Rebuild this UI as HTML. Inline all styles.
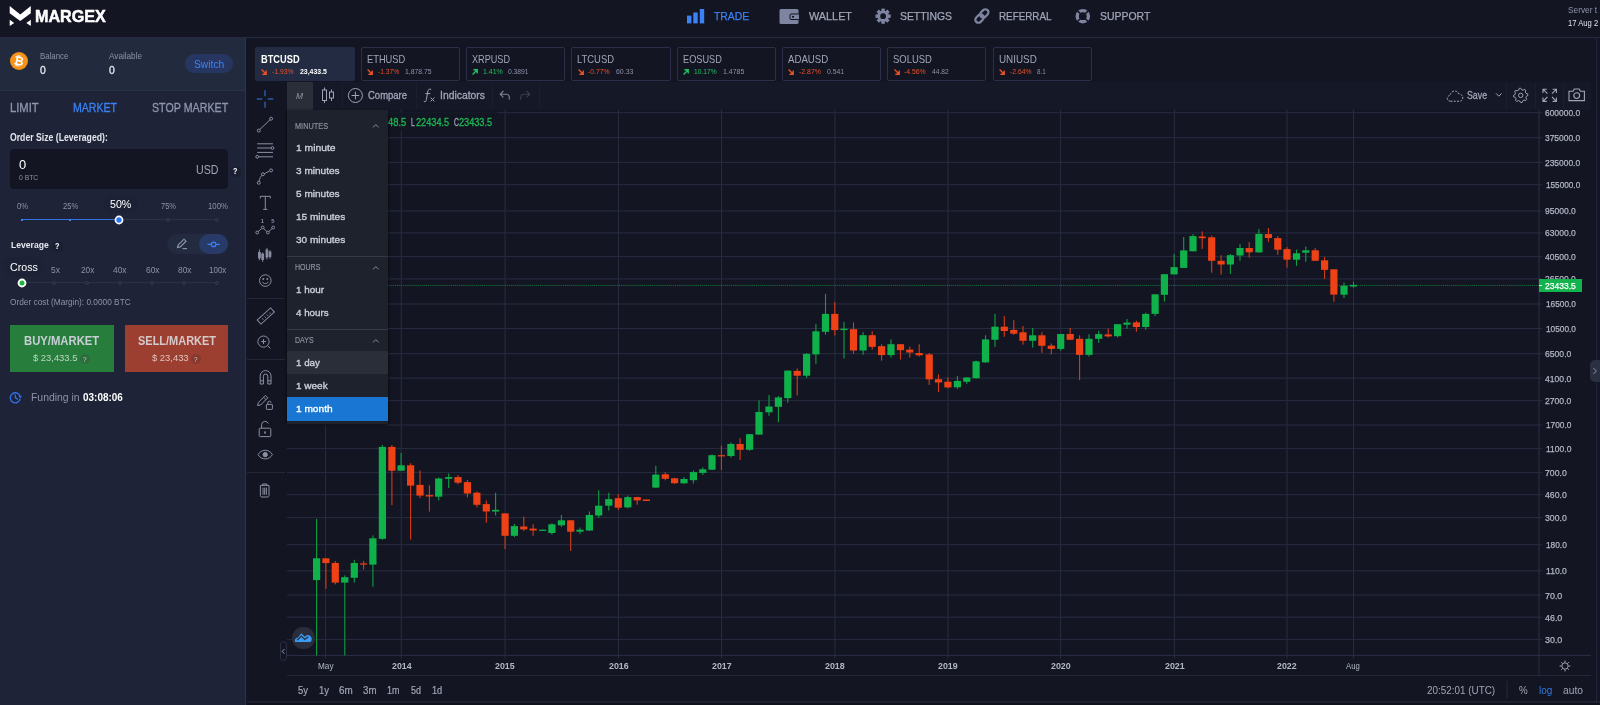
<!DOCTYPE html>
<html><head><meta charset="utf-8">
<style>
*{box-sizing:border-box;margin:0;padding:0}
html,body{width:1600px;height:705px;overflow:hidden;background:#131522;font-family:"Liberation Sans",sans-serif;color:#c8ccd8}
.abs{position:absolute}
#nav{position:absolute;left:0;top:0;width:1600px;height:37px;background:#131523;border-bottom:1px solid #262b40}
#left{position:absolute;left:0;top:37px;width:246px;height:668px;background:#1f2539;border-right:1px solid #2a3048}
.t{position:absolute;white-space:nowrap;line-height:1}
.navi{position:absolute;top:11px;font-size:12px;color:#b4b9c8;letter-spacing:0.2px;line-height:12px;white-space:nowrap}
.pair{position:absolute;top:46px;height:35px;width:101px;border:1px solid #2a3048;border-radius:2px}
.pair .n{position:absolute;left:7px;top:7px;font-size:11px;color:#c5c9d6;line-height:11px}
.pair .c{position:absolute;left:17px;top:21px;font-size:7px;line-height:7px}
.pair .p{position:absolute;top:21px;font-size:7px;line-height:7px;color:#9ba1b3}
.pair svg{position:absolute;left:6px;top:21px}
.red{color:#e8512a}.grn{color:#1fc160}
.dd{position:absolute;left:287px;top:110px;width:101px;height:312px;background:#1e222d;box-shadow:0 2px 4px rgba(0,0,0,.5)}
.dd .h{position:absolute;left:8px;font-size:7px;color:#8a8f9f;letter-spacing:.2px;line-height:7px}
.dd .i{position:absolute;left:0;width:101px;height:23px;padding-left:8px;font-size:9.5px;line-height:23px;color:#d1d4dc}
.dd .sep{position:absolute;left:0;width:101px;height:1px;background:#363a47}
.ax{position:absolute;left:1545px;font-size:8.5px;color:#b0b5c4;line-height:9px;white-space:nowrap}
.tx{position:absolute;top:662px;font-size:8px;color:#b0b5c4;line-height:9px;white-space:nowrap;transform:translateX(-50%);font-weight:bold}
</style></head><body>

<div id="root" style="position:absolute;left:0;top:0;width:1600px;height:705px;overflow:hidden;will-change:transform">
<div class="abs" style="left:0;top:0;width:1600px;height:37px;background:#131522"></div>
<div class="abs" style="left:0;top:37px;width:1600px;height:1px;background:#252a40"></div>
<div class="abs" style="left:0;top:38px;width:245px;height:667px;background:#1e2337"></div>
<div class="abs" style="left:0;top:38px;width:245px;height:52px;background:#222a3e"></div>
<div class="abs" style="left:0;top:90px;width:245px;height:1px;background:#2a3148"></div>
<div class="abs" style="left:244.8px;top:38px;width:1px;height:667px;background:#2d344d"></div>
<svg class="abs" style="left:0px;top:0px" width="40" height="32">
<path d="M9.7 6 L20.25 14.4 L30.8 6 L30.8 13.2 L20.25 21 L9.7 13.2 Z" fill="#fff"/>
<path d="M9.7 19.8 L14.2 22.9 L9.7 26 Z" fill="#fff"/><path d="M30.8 19.8 L26.3 22.9 L30.8 26 Z" fill="#fff"/></svg>
<span class="t" style="left:35.40px;top:7.75px;font-size:16.45px;color:#ffffff;font-weight:bold;transform-origin:0 0;transform:scaleX(0.981);-webkit-text-stroke:0.5px #fff;">MARGEX</span>
<svg class="abs" style="left:686px;top:8px" width="20" height="17"><rect x="1" y="7.6" width="4.4" height="7.8" fill="#3b82f6"/><rect x="7.3" y="4.5" width="4.4" height="10.9" fill="#3b82f6"/><rect x="13.8" y="1" width="4.4" height="14.4" fill="#3b82f6"/></svg>
<span class="t" style="left:714.00px;top:10.75px;font-size:11.21px;color:#3b82f6;font-weight:normal;transform-origin:0 0;transform:scaleX(0.927);-webkit-text-stroke:0.25px;">TRADE</span>
<svg class="abs" style="left:779px;top:8px" width="22" height="17"><rect x="0.5" y="1" width="19" height="15" rx="1.5" fill="#7e85a0"/><rect x="11" y="6" width="9.5" height="5.5" rx="1" fill="#7e85a0" stroke="#131522" stroke-width="1"/><rect x="13" y="8" width="2" height="1.6" fill="#131522"/></svg>
<span class="t" style="left:808.90px;top:10.75px;font-size:11.21px;color:#a0a6b8;font-weight:normal;transform-origin:0 0;transform:scaleX(0.968);-webkit-text-stroke:0.25px;">WALLET</span>
<svg class="abs" style="left:874px;top:7px" width="18" height="18"><g transform="translate(9.10,9.20)" fill="#7e85a0"><circle r="4.34" fill="none" stroke="#7e85a0" stroke-width="2.88"/><rect x="-1.7" y="-7.60" width="3.4" height="3.04" transform="rotate(0.0)"/><rect x="-1.7" y="-7.60" width="3.4" height="3.04" transform="rotate(45.0)"/><rect x="-1.7" y="-7.60" width="3.4" height="3.04" transform="rotate(90.0)"/><rect x="-1.7" y="-7.60" width="3.4" height="3.04" transform="rotate(135.0)"/><rect x="-1.7" y="-7.60" width="3.4" height="3.04" transform="rotate(180.0)"/><rect x="-1.7" y="-7.60" width="3.4" height="3.04" transform="rotate(225.0)"/><rect x="-1.7" y="-7.60" width="3.4" height="3.04" transform="rotate(270.0)"/><rect x="-1.7" y="-7.60" width="3.4" height="3.04" transform="rotate(315.0)"/></g></svg>
<span class="t" style="left:900.00px;top:10.75px;font-size:11.21px;color:#a0a6b8;font-weight:normal;transform-origin:0 0;transform:scaleX(0.928);-webkit-text-stroke:0.25px;">SETTINGS</span>
<svg class="abs" style="left:973px;top:7px" width="18" height="18" fill="none" stroke="#7e85a0" stroke-width="2.2" stroke-linecap="round">
<rect x="8.2" y="1.8" width="6.2" height="9.2" rx="3.1" transform="rotate(45 11.3 6.4)"/>
<rect x="3.4" y="7" width="6.2" height="9.2" rx="3.1" transform="rotate(45 6.5 11.6)"/></svg>
<span class="t" style="left:999.40px;top:10.75px;font-size:11.21px;color:#a0a6b8;font-weight:normal;transform-origin:0 0;transform:scaleX(0.878);-webkit-text-stroke:0.25px;">REFERRAL</span>
<svg class="abs" style="left:1074px;top:7px" width="18" height="18"><circle cx="8.8" cy="9.2" r="5.6" fill="none" stroke="#7e85a0" stroke-width="3.4"/>
<g stroke="#131522" stroke-width="1.6"><line x1="3" y1="3.4" x2="6" y2="6.4"/><line x1="14.6" y1="3.4" x2="11.6" y2="6.4"/><line x1="3" y1="15" x2="6" y2="12"/><line x1="14.6" y1="15" x2="11.6" y2="12"/></g></svg>
<span class="t" style="left:1099.70px;top:10.75px;font-size:11.21px;color:#a0a6b8;font-weight:normal;transform-origin:0 0;transform:scaleX(0.932);-webkit-text-stroke:0.25px;">SUPPORT</span>
<span class="t" style="left:1568.30px;top:5.75px;font-size:9.36px;color:#8d93a8;font-weight:normal;transform-origin:0 0;transform:scaleX(0.891);">Server t</span>
<span class="t" style="left:1568.30px;top:18.75px;font-size:9.36px;color:#e0e3ea;font-weight:normal;transform-origin:0 0;transform:scaleX(0.817);">17 Aug 2</span>
<div class="abs" style="left:10px;top:52px;width:18px;height:18px;border-radius:9px;background:#f7931a"></div>
<span class="t" style="left:14.2px;top:54.5px;font-size:12px;color:#fff;font-weight:bold;transform:rotate(12deg)">&#8383;</span>
<span class="t" style="left:40.00px;top:51.75px;font-size:9.22px;color:#8d93a8;font-weight:normal;transform-origin:0 0;transform:scaleX(0.849);">Balance</span>
<span class="t" style="left:40.00px;top:64.75px;font-size:10.78px;color:#e4e7ee;font-weight:normal;transform-origin:0 0;transform:scaleX(0.968);-webkit-text-stroke:0.3px #e4e7ee;">0</span>
<span class="t" style="left:109.00px;top:51.75px;font-size:9.22px;color:#8d93a8;font-weight:normal;transform-origin:0 0;transform:scaleX(0.886);">Available</span>
<span class="t" style="left:109.00px;top:64.75px;font-size:10.78px;color:#e4e7ee;font-weight:normal;transform-origin:0 0;transform:scaleX(0.968);-webkit-text-stroke:0.3px #e4e7ee;">0</span>
<div class="abs" style="left:185px;top:54.4px;width:48px;height:19px;border-radius:9.5px;background:#273660"></div>
<span class="t" style="left:193.80px;top:58.75px;font-size:11.06px;color:#3b82f6;font-weight:normal;transform-origin:0 0;transform:scaleX(0.933);">Switch</span>
<span class="t" style="left:10.30px;top:100.75px;font-size:13.19px;color:#9097ad;font-weight:normal;transform-origin:0 0;transform:scaleX(0.848);-webkit-text-stroke:0.3px #9097ad;">LIMIT</span>
<span class="t" style="left:73.40px;top:100.75px;font-size:13.19px;color:#3b82f6;font-weight:normal;transform-origin:0 0;transform:scaleX(0.802);-webkit-text-stroke:0.3px #3b82f6;">MARKET</span>
<span class="t" style="left:151.60px;top:100.75px;font-size:13.19px;color:#9097ad;font-weight:normal;transform-origin:0 0;transform:scaleX(0.810);-webkit-text-stroke:0.3px #9097ad;">STOP MARKET</span>
<span class="t" style="left:10.30px;top:132.75px;font-size:10.35px;color:#e4e7ee;font-weight:bold;transform-origin:0 0;transform:scaleX(0.838);">Order Size (Leveraged):</span>
<div class="abs" style="left:10.2px;top:148.6px;width:218px;height:40.2px;border-radius:4px;background:#131523"></div>
<span class="t" style="left:19.00px;top:158.75px;font-size:12.62px;color:#ffffff;font-weight:normal;transform-origin:0 0;transform:scaleX(1.026);">0</span>
<span class="t" style="left:19.00px;top:173.75px;font-size:7.66px;color:#8d93a8;font-weight:normal;transform-origin:0 0;transform:scaleX(0.889);">0 BTC</span>
<span class="t" style="left:195.80px;top:163.75px;font-size:12.62px;color:#a0a6b8;font-weight:normal;transform-origin:0 0;transform:scaleX(0.845);">USD</span>
<div class="abs" style="left:229.5px;top:165.7px;width:11px;height:11px;border-radius:6px;background:#1a1f31"></div>
<span class="t" style="left:232.80px;top:166.75px;font-size:8.51px;color:#ffffff;font-weight:bold;transform-origin:0 0;transform:scaleX(0.846);">?</span>
<span class="t" style="left:16.90px;top:201.75px;font-size:8.37px;color:#8d93a8;font-weight:normal;transform-origin:0 0;transform:scaleX(0.926);">0%</span>
<span class="t" style="left:63.00px;top:201.75px;font-size:8.37px;color:#8d93a8;font-weight:normal;transform-origin:0 0;transform:scaleX(0.902);">25%</span>
<div class="abs" style="left:103.5px;top:195px;width:34px;height:18px;border-radius:7px;background:#1c2135"></div>
<span class="t" style="left:110.30px;top:197.75px;font-size:11.63px;color:#ffffff;font-weight:normal;transform-origin:0 0;transform:scaleX(0.915);">50%</span>
<span class="t" style="left:161.00px;top:201.75px;font-size:8.37px;color:#8d93a8;font-weight:normal;transform-origin:0 0;transform:scaleX(0.896);">75%</span>
<span class="t" style="left:207.80px;top:201.75px;font-size:8.37px;color:#8d93a8;font-weight:normal;transform-origin:0 0;transform:scaleX(0.929);">100%</span>
<div class="abs" style="left:119px;top:219.2px;width:98px;height:1px;background:#2b3148"></div>
<div class="abs" style="left:21px;top:218.9px;width:98px;height:1.6px;background:#2f6fe4"></div>
<div class="abs" style="left:21px;top:218.5px;width:2.4px;height:2.4px;background:#3b82f6"></div>
<div class="abs" style="left:69.1px;top:218.5px;width:2.4px;height:2.4px;background:#3b82f6"></div>
<div class="abs" style="left:166.0px;top:217.7px;width:4px;height:4px;border-radius:2px;border:1px solid #353c55;background:#1e2337"></div>
<div class="abs" style="left:214.9px;top:217.7px;width:4px;height:4px;border-radius:2px;border:1px solid #353c55;background:#1e2337"></div>
<svg class="abs" style="left:113px;top:213.7px" width="12" height="12"><circle cx="6" cy="6" r="4.4" fill="#fff"/><circle cx="6" cy="6" r="2.7" fill="#2f74f0"/></svg>
<span class="t" style="left:10.50px;top:239.75px;font-size:9.72px;color:#e4e7ee;font-weight:bold;transform-origin:0 0;transform:scaleX(0.885);">Leverage</span>
<div class="abs" style="left:51.7px;top:240.6px;width:11px;height:11px;border-radius:6px;background:#1a1f31"></div>
<span class="t" style="left:55.00px;top:241.75px;font-size:8.51px;color:#ffffff;font-weight:bold;transform-origin:0 0;transform:scaleX(0.846);">?</span>
<div class="abs" style="left:167.2px;top:234px;width:61px;height:20px;border-radius:10px;background:#232b41"></div>
<div class="abs" style="left:199.2px;top:234px;width:29px;height:20px;border-radius:10px;background:#283a68"></div>
<svg class="abs" style="left:176px;top:238px" width="12" height="12" fill="none" stroke="#9097ad" stroke-width="1.1"><path d="M1.5 9.5 L2.3 6.9 L8 1.2 L10 3.2 L4.3 8.9 Z"/><line x1="6.5" y1="10.6" x2="11" y2="10.6"/></svg>
<svg class="abs" style="left:207px;top:239px" width="14" height="11" fill="none" stroke="#3b82f6" stroke-width="1.2"><line x1="0.5" y1="5.4" x2="4.3" y2="5.4"/><circle cx="6.6" cy="5.4" r="2.3"/><line x1="8.9" y1="5.4" x2="12.8" y2="5.4"/></svg>
<div class="abs" style="left:4px;top:257px;width:39px;height:20px;border-radius:8px;background:#1c2135"></div>
<span class="t" style="left:9.70px;top:261.75px;font-size:11.49px;color:#ffffff;font-weight:normal;transform-origin:0 0;transform:scaleX(0.927);">Cross</span>
<span class="t" style="left:50.80px;top:265.75px;font-size:8.94px;color:#8d93a8;font-weight:normal;transform-origin:0 0;transform:scaleX(0.943);">5x</span>
<span class="t" style="left:80.80px;top:265.75px;font-size:8.94px;color:#8d93a8;font-weight:normal;transform-origin:0 0;transform:scaleX(0.930);">20x</span>
<span class="t" style="left:113.30px;top:265.75px;font-size:8.94px;color:#8d93a8;font-weight:normal;transform-origin:0 0;transform:scaleX(0.944);">40x</span>
<span class="t" style="left:145.80px;top:265.75px;font-size:8.94px;color:#8d93a8;font-weight:normal;transform-origin:0 0;transform:scaleX(0.944);">60x</span>
<span class="t" style="left:178.40px;top:265.75px;font-size:8.94px;color:#8d93a8;font-weight:normal;transform-origin:0 0;transform:scaleX(0.937);">80x</span>
<span class="t" style="left:208.90px;top:265.75px;font-size:8.94px;color:#8d93a8;font-weight:normal;transform-origin:0 0;transform:scaleX(0.895);">100x</span>
<div class="abs" style="left:21.6px;top:282.3px;width:195px;height:1px;background:#2b3148"></div>
<div class="abs" style="left:52.4px;top:280.8px;width:4px;height:4px;border-radius:2px;border:1px solid #353c55;background:#1e2337"></div>
<div class="abs" style="left:85.0px;top:280.8px;width:4px;height:4px;border-radius:2px;border:1px solid #353c55;background:#1e2337"></div>
<div class="abs" style="left:117.5px;top:280.8px;width:4px;height:4px;border-radius:2px;border:1px solid #353c55;background:#1e2337"></div>
<div class="abs" style="left:149.9px;top:280.8px;width:4px;height:4px;border-radius:2px;border:1px solid #353c55;background:#1e2337"></div>
<div class="abs" style="left:182.4px;top:280.8px;width:4px;height:4px;border-radius:2px;border:1px solid #353c55;background:#1e2337"></div>
<div class="abs" style="left:214.9px;top:280.8px;width:4px;height:4px;border-radius:2px;border:1px solid #353c55;background:#1e2337"></div>
<svg class="abs" style="left:15.6px;top:276.8px" width="12" height="12"><circle cx="6" cy="6" r="4.4" fill="#fff"/><circle cx="6" cy="6" r="2.5" fill="#1fb83a"/></svg>
<span class="t" style="left:10.30px;top:297.75px;font-size:8.94px;color:#8d93a8;font-weight:normal;transform-origin:0 0;transform:scaleX(0.929);">Order cost (Margin): 0.0000 BTC</span>
<div class="abs" style="left:10.2px;top:325.2px;width:103.4px;height:46.4px;background:#277e3c"></div>
<div class="abs" style="left:125px;top:325.2px;width:103.1px;height:46.4px;background:#9c3f31"></div>
<span class="t" style="left:24.20px;top:334.75px;font-size:12.20px;color:#c9cdd6;font-weight:bold;transform-origin:0 0;transform:scaleX(0.926);">BUY/MARKET</span>
<span class="t" style="left:137.50px;top:334.75px;font-size:12.20px;color:#d6c9c9;font-weight:bold;transform-origin:0 0;transform:scaleX(0.900);">SELL/MARKET</span>
<span class="t" style="left:32.80px;top:352.75px;font-size:9.65px;color:#bcd6c1;font-weight:normal;transform-origin:0 0;transform:scaleX(0.976);">$ 23,433.5</span>
<span class="t" style="left:151.60px;top:352.75px;font-size:9.65px;color:#e0c3be;font-weight:normal;transform-origin:0 0;transform:scaleX(0.977);">$ 23,433</span>
<div class="abs" style="left:80.2px;top:354.2px;width:10px;height:10px;border-radius:5px;background:#2e6b3d"></div>
<span class="t" style="left:83.40px;top:355.75px;font-size:7.94px;color:#bcd6c1;font-weight:normal;transform-origin:0 0;transform:scaleX(0.815);">?</span>
<div class="abs" style="left:191.1px;top:354.2px;width:10px;height:10px;border-radius:5px;background:#86392e"></div>
<span class="t" style="left:194.30px;top:355.75px;font-size:7.94px;color:#e0c3be;font-weight:normal;transform-origin:0 0;transform:scaleX(0.815);">?</span>
<svg class="abs" style="left:9px;top:391px" width="13" height="13" fill="none" stroke="#2f74ee" stroke-width="1.3"><path d="M11 5.2 A5 5 0 1 0 11.2 7.6"/><path d="M6.3 3.4 L6.3 6.6 L8.9 8.4" stroke-width="1.2"/><path d="M9.8 5.6 L11.6 6.6 L12.2 4.8" stroke-width="1" fill="#2f74ee"/></svg>
<span class="t" style="left:30.50px;top:391.75px;font-size:10.64px;color:#8d93a8;font-weight:normal;transform-origin:0 0;transform:scaleX(0.980);">Funding in</span>
<span class="t" style="left:82.80px;top:391.75px;font-size:10.64px;color:#ffffff;font-weight:bold;transform-origin:0 0;transform:scaleX(0.937);">03:08:06</span>
<div class="abs" style="left:254.9px;top:47px;width:99.7px;height:34px;border-radius:2px;background:#222b42"></div>
<span class="t" style="left:261.30px;top:54.75px;font-size:10.35px;color:#ffffff;font-weight:bold;transform-origin:0 0;transform:scaleX(0.895);">BTCUSD</span>
<svg class="abs" style="left:261.2px;top:69px" width="6" height="6" fill="none" stroke="#e8512a" stroke-width="1.4"><path d="M0.6 0.6 L5 5 M1.4 5.2 L5.2 5.2 L5.2 1.4"/></svg>
<span class="t" style="left:272.25px;top:68.75px;font-size:7.09px;color:#e8512a;font-weight:normal;transform-origin:0 0;transform:scaleX(0.955);">-1.93%</span>
<span class="t" style="left:299.90px;top:68.75px;font-size:7.09px;color:#ffffff;font-weight:bold;transform-origin:0 0;transform:scaleX(0.978);">23,433.5</span>
<div class="abs" style="left:360.5px;top:47.3px;width:99.3px;height:33.5px;border-radius:2px;border:1px solid #2a3048"></div>
<span class="t" style="left:366.80px;top:54.75px;font-size:10.35px;color:#a0a6b8;font-weight:normal;transform-origin:0 0;transform:scaleX(0.900);">ETHUSD</span>
<svg class="abs" style="left:366.8px;top:69px" width="6" height="6" fill="none" stroke="#e8512a" stroke-width="1.4"><path d="M0.6 0.6 L5 5 M1.4 5.2 L5.2 5.2 L5.2 1.4"/></svg>
<span class="t" style="left:377.70px;top:68.75px;font-size:7.09px;color:#e8512a;font-weight:normal;transform-origin:0 0;transform:scaleX(0.939);">-1.37%</span>
<span class="t" style="left:405.40px;top:68.75px;font-size:7.09px;color:#8d93a8;font-weight:normal;transform-origin:0 0;transform:scaleX(0.960);">1,878.75</span>
<div class="abs" style="left:465.7px;top:47.3px;width:99.3px;height:33.5px;border-radius:2px;border:1px solid #2a3048"></div>
<span class="t" style="left:472.00px;top:54.75px;font-size:10.35px;color:#a0a6b8;font-weight:normal;transform-origin:0 0;transform:scaleX(0.881);">XRPUSD</span>
<svg class="abs" style="left:472.0px;top:69px" width="6" height="6" fill="none" stroke="#1fc160" stroke-width="1.4"><path d="M0.6 5.4 L5 1 M1.4 0.8 L5.2 0.8 L5.2 4.6"/></svg>
<span class="t" style="left:482.60px;top:68.75px;font-size:7.09px;color:#1fc160;font-weight:normal;transform-origin:0 0;transform:scaleX(0.985);">1.41%</span>
<span class="t" style="left:508.00px;top:68.75px;font-size:7.09px;color:#8d93a8;font-weight:normal;transform-origin:0 0;transform:scaleX(0.950);">0.3891</span>
<div class="abs" style="left:571.3px;top:47.3px;width:99.3px;height:33.5px;border-radius:2px;border:1px solid #2a3048"></div>
<span class="t" style="left:577.40px;top:54.75px;font-size:10.35px;color:#a0a6b8;font-weight:normal;transform-origin:0 0;transform:scaleX(0.911);">LTCUSD</span>
<svg class="abs" style="left:577.6px;top:69px" width="6" height="6" fill="none" stroke="#e8512a" stroke-width="1.4"><path d="M0.6 0.6 L5 5 M1.4 5.2 L5.2 5.2 L5.2 1.4"/></svg>
<span class="t" style="left:588.00px;top:68.75px;font-size:7.09px;color:#e8512a;font-weight:normal;transform-origin:0 0;transform:scaleX(0.962);">-0.77%</span>
<span class="t" style="left:615.60px;top:68.75px;font-size:7.09px;color:#8d93a8;font-weight:normal;transform-origin:0 0;transform:scaleX(0.981);">60.33</span>
<div class="abs" style="left:676.5px;top:47.3px;width:99.3px;height:33.5px;border-radius:2px;border:1px solid #2a3048"></div>
<span class="t" style="left:682.60px;top:54.75px;font-size:10.35px;color:#a0a6b8;font-weight:normal;transform-origin:0 0;transform:scaleX(0.888);">EOSUSD</span>
<svg class="abs" style="left:682.8px;top:69px" width="6" height="6" fill="none" stroke="#1fc160" stroke-width="1.4"><path d="M0.6 5.4 L5 1 M1.4 0.8 L5.2 0.8 L5.2 4.6"/></svg>
<span class="t" style="left:694.00px;top:68.75px;font-size:7.09px;color:#1fc160;font-weight:normal;transform-origin:0 0;transform:scaleX(0.940);">10.17%</span>
<span class="t" style="left:722.60px;top:68.75px;font-size:7.09px;color:#8d93a8;font-weight:normal;transform-origin:0 0;transform:scaleX(0.987);">1.4785</span>
<div class="abs" style="left:781.9px;top:47.3px;width:99.3px;height:33.5px;border-radius:2px;border:1px solid #2a3048"></div>
<span class="t" style="left:788.00px;top:54.75px;font-size:10.35px;color:#a0a6b8;font-weight:normal;transform-origin:0 0;transform:scaleX(0.934);">ADAUSD</span>
<svg class="abs" style="left:788.2px;top:69px" width="6" height="6" fill="none" stroke="#e8512a" stroke-width="1.4"><path d="M0.6 0.6 L5 5 M1.4 5.2 L5.2 5.2 L5.2 1.4"/></svg>
<span class="t" style="left:798.60px;top:68.75px;font-size:7.09px;color:#e8512a;font-weight:normal;transform-origin:0 0;transform:scaleX(0.979);">-2.87%</span>
<span class="t" style="left:826.60px;top:68.75px;font-size:7.09px;color:#8d93a8;font-weight:normal;transform-origin:0 0;transform:scaleX(0.964);">0.541</span>
<div class="abs" style="left:887.2px;top:47.3px;width:99.3px;height:33.5px;border-radius:2px;border:1px solid #2a3048"></div>
<span class="t" style="left:893.40px;top:54.75px;font-size:10.35px;color:#a0a6b8;font-weight:normal;transform-origin:0 0;transform:scaleX(0.914);">SOLUSD</span>
<svg class="abs" style="left:893.5px;top:69px" width="6" height="6" fill="none" stroke="#e8512a" stroke-width="1.4"><path d="M0.6 0.6 L5 5 M1.4 5.2 L5.2 5.2 L5.2 1.4"/></svg>
<span class="t" style="left:904.30px;top:68.75px;font-size:7.09px;color:#e8512a;font-weight:normal;transform-origin:0 0;transform:scaleX(0.966);">-4.56%</span>
<span class="t" style="left:932.30px;top:68.75px;font-size:7.09px;color:#8d93a8;font-weight:normal;transform-origin:0 0;transform:scaleX(0.941);">44.82</span>
<div class="abs" style="left:992.6px;top:47.3px;width:99.3px;height:33.5px;border-radius:2px;border:1px solid #2a3048"></div>
<span class="t" style="left:998.80px;top:54.75px;font-size:10.35px;color:#a0a6b8;font-weight:normal;transform-origin:0 0;transform:scaleX(0.953);">UNIUSD</span>
<svg class="abs" style="left:998.9px;top:69px" width="6" height="6" fill="none" stroke="#e8512a" stroke-width="1.4"><path d="M0.6 0.6 L5 5 M1.4 5.2 L5.2 5.2 L5.2 1.4"/></svg>
<span class="t" style="left:1009.60px;top:68.75px;font-size:7.09px;color:#e8512a;font-weight:normal;transform-origin:0 0;transform:scaleX(0.966);">-2.64%</span>
<span class="t" style="left:1037.30px;top:68.75px;font-size:7.09px;color:#8d93a8;font-weight:normal;transform-origin:0 0;transform:scaleX(0.883);">8.1</span>
<div class="abs" style="left:287px;top:82px;width:1304px;height:27.5px;background:#151827"></div>
<div class="abs" style="left:287px;top:81.6px;width:26.3px;height:28.4px;background:#2a2e39"></div>
<span class="t" style="left:296.00px;top:91.75px;font-size:9.36px;color:#9499aa;font-weight:normal;transform-origin:0 0;transform:scaleX(0.898);font-style:italic">M</span>
<svg class="abs" style="left:321px;top:87px" width="14" height="17" fill="none" stroke="#a0a6b8" stroke-width="1"><line x1="3.5" y1="0.5" x2="3.5" y2="16"/><rect x="1.5" y="3" width="4" height="10.5" fill="#151827"/><line x1="10.5" y1="2.5" x2="10.5" y2="14"/><rect x="8.5" y="5" width="4" height="6" fill="#151827"/></svg>
<svg class="abs" style="left:347px;top:87px" width="17" height="17" fill="none" stroke="#a0a6b8" stroke-width="1"><circle cx="8.4" cy="8.5" r="7"/><line x1="4.6" y1="8.5" x2="12.2" y2="8.5"/><line x1="8.4" y1="4.7" x2="8.4" y2="12.3"/></svg>
<span class="t" style="left:367.90px;top:90.75px;font-size:10.35px;color:#a0a6b8;font-weight:normal;transform-origin:0 0;transform:scaleX(0.918);-webkit-text-stroke:0.3px;">Compare</span>
<svg class="abs" style="left:423px;top:88px" width="13" height="15" fill="none" stroke="#a0a6b8" stroke-width="1"><path d="M8.2 1.4 C5.8 0.4 5 2 4.7 4 L3.4 11.5 C3.1 13.4 2.4 14.2 0.8 13.4"/><line x1="2.4" y1="5.6" x2="7.4" y2="5.6"/><path d="M7.6 9.6 L11.4 13.4 M11.4 9.6 L7.6 13.4"/></svg>
<span class="t" style="left:440.00px;top:90.75px;font-size:10.35px;color:#a0a6b8;font-weight:normal;transform-origin:0 0;transform:scaleX(1.003);-webkit-text-stroke:0.3px;">Indicators</span>
<svg class="abs" style="left:499px;top:90px" width="12" height="11" fill="none" stroke="#80859a" stroke-width="1.1"><path d="M4.4 1 L1.2 4.2 L4.4 7.4 M1.4 4.2 L7.5 4.2 C9.8 4.2 10.8 6.4 10.2 9.6"/></svg>
<svg class="abs" style="left:519px;top:90px" width="12" height="11" fill="none" stroke="#3a3f52" stroke-width="1.1"><path d="M7.6 1 L10.8 4.2 L7.6 7.4 M10.6 4.2 L4.5 4.2 C2.2 4.2 1.2 6.4 1.8 9.6"/></svg>
<div class="abs" style="left:341.6px;top:83px;width:1px;height:26px;background:#1a1e2e"></div>
<div class="abs" style="left:415.5px;top:83px;width:1px;height:26px;background:#1a1e2e"></div>
<div class="abs" style="left:492.0px;top:83px;width:1px;height:26px;background:#1a1e2e"></div>
<div class="abs" style="left:538.5px;top:83px;width:1px;height:26px;background:#1a1e2e"></div>
<div class="abs" style="left:1506.3px;top:83px;width:1px;height:26px;background:#1a1e2e"></div>
<div class="abs" style="left:1534.5px;top:83px;width:1px;height:26px;background:#1a1e2e"></div>
<div class="abs" style="left:1562.5px;top:83px;width:1px;height:26px;background:#1a1e2e"></div>
<svg class="abs" style="left:1446px;top:88px" width="20" height="15" fill="none" stroke="#a0a6b8" stroke-width="1" stroke-dasharray="2 1.3"><path d="M4.6 13.2 C0.4 13.2 0.2 7.8 4.2 7.4 C4.4 2.6 11.2 1.2 12.8 6 C17.4 5.6 18.4 13.2 13.6 13.2 Z"/></svg>
<span class="t" style="left:1466.90px;top:89.75px;font-size:10.78px;color:#a0a6b8;font-weight:normal;transform-origin:0 0;transform:scaleX(0.818);-webkit-text-stroke:0.3px;">Save</span>
<svg class="abs" style="left:1495px;top:92px" width="8" height="6" fill="none" stroke="#a0a6b8" stroke-width="1"><path d="M1 1.4 L3.8 4.2 L6.6 1.4"/></svg>
<svg class="abs" style="left:1512px;top:87px" width="17" height="17" fill="none" stroke="#a0a6b8" stroke-width="1"><polygon points="15.76,7.00 15.90,8.40 14.21,9.50 13.89,10.55 14.69,12.40 13.79,13.49 11.82,13.07 10.85,13.59 10.10,15.46 8.70,15.60 7.60,13.91 6.55,13.59 4.70,14.39 3.61,13.49 4.03,11.52 3.51,10.55 1.64,9.80 1.50,8.40 3.19,7.30 3.51,6.25 2.71,4.40 3.61,3.31 5.58,3.73 6.55,3.21 7.30,1.34 8.70,1.20 9.80,2.89 10.85,3.21 12.70,2.41 13.79,3.31 13.37,5.28 13.89,6.25" stroke-linejoin="round"/><circle cx="8.70" cy="8.40" r="2.2"/></svg>
<svg class="abs" style="left:1542px;top:88px" width="16" height="15" fill="none" stroke="#a0a6b8" stroke-width="1.1"><path d="M1 5 L1 1.2 L4.8 1.2 M1.2 1.4 L5.4 5.6 M10.6 1.2 L14.4 1.2 L14.4 5 M14.2 1.4 L10 5.6 M1 9.6 L1 13.4 L4.8 13.4 M1.2 13.2 L5.4 9 M14.4 9.6 L14.4 13.4 L10.6 13.4 M14.2 13.2 L10 9"/></svg>
<svg class="abs" style="left:1568px;top:88px" width="18" height="14" fill="none" stroke="#a0a6b8" stroke-width="1.1"><path d="M1 3.2 L5 3.2 L6.2 1 L11.2 1 L12.4 3.2 L16.4 3.2 L16.4 12.6 L1 12.6 Z"/><circle cx="8.7" cy="7.6" r="2.9"/></svg>
<svg class="abs" style="left:256.4px;top:90.0px" width="18" height="18" fill="none" stroke="#2b6fc6" stroke-width="1.2"><line x1="9" y1="0.3" x2="9" y2="6.2"/><line x1="9" y1="11.8" x2="9" y2="17.7"/><line x1="0.8" y1="9" x2="6.2" y2="9"/><line x1="11.8" y1="9" x2="17.2" y2="9"/></svg>
<svg class="abs" style="left:256.0px;top:116.0px" width="18" height="18" fill="none" stroke="#8b90a2" stroke-width="1"><line x1="3.8" y1="13.5" x2="14" y2="3.8"/><circle cx="2.75" cy="14.6" r="1.5"/><circle cx="15.1" cy="2.7" r="1.5"/></svg>
<svg class="abs" style="left:255.0px;top:142.0px" width="20" height="17" fill="none" stroke="#8b90a2" stroke-width="1"><line x1="2.2" y1="1.8" x2="18" y2="1.8"/><line x1="2.2" y1="6" x2="16" y2="6"/><circle cx="17.5" cy="6" r="1.4"/><line x1="2.2" y1="10.4" x2="18" y2="10.4"/><line x1="3.7" y1="14.8" x2="18" y2="14.8"/><circle cx="2.2" cy="14.8" r="1.4"/></svg>
<svg class="abs" style="left:256.0px;top:168.0px" width="18" height="18" fill="none" stroke="#8b90a2" stroke-width="1"><path d="M3 13.4 C3.6 10.4 4.8 8.4 6 7.3 M8.2 5.8 L13.6 3"/><circle cx="2.75" cy="14.75" r="1.5"/><circle cx="6.9" cy="6.3" r="1.5"/><circle cx="15.1" cy="2.4" r="1.5"/></svg>
<svg class="abs" style="left:259.0px;top:195.0px" width="13" height="16" fill="none" stroke="#8b90a2" stroke-width="1"><path d="M1.3 3.4 L1.3 1.3 L11.3 1.3 L11.3 3.4 M6.3 1.3 L6.3 14.3 M4.2 14.4 L8.4 14.4"/></svg>
<svg class="abs" style="left:254.5px;top:219.0px" width="22" height="17" fill="none" stroke="#8b90a2" stroke-width="1"><path d="M3.3 12.5 L6.6 9.5 M8.8 9.5 L11.7 12.5 M13.9 12.5 L17.1 9.5"/><circle cx="2.2" cy="13.5" r="1.4"/><circle cx="7.7" cy="8.5" r="1.4"/><circle cx="12.8" cy="13.5" r="1.4"/><circle cx="18.2" cy="8.5" r="1.4"/></svg>
<span class="t" style="left:260.7px;top:218.6px;font-size:5.8px;color:#8b90a2;font-weight:bold">1</span>
<span class="t" style="left:271.2px;top:218.6px;font-size:5.8px;color:#8b90a2;font-weight:bold">5</span>
<svg class="abs" style="left:256.0px;top:246.0px" width="18" height="18" fill="none" stroke="#8b90a2" stroke-width="0.9"><line x1="3.4" y1="3.4" x2="3.4" y2="14.3"/><rect x="2.5" y="6.5" width="1.8" height="5.5" fill="#8b90a2"/><line x1="6.7" y1="6.5" x2="6.7" y2="15.9"/><rect x="5.8" y="8" width="1.8" height="5.5" fill="#8b90a2"/><line x1="10.9" y1="1.8" x2="10.9" y2="13.5"/><rect x="10" y="4" width="1.8" height="7" fill="#8b90a2"/><line x1="14" y1="4.2" x2="14" y2="12.75"/><rect x="13.1" y="6" width="1.8" height="4.5" fill="#8b90a2"/></svg>
<svg class="abs" style="left:257.5px;top:273.0px" width="16" height="16" fill="none" stroke="#8b90a2" stroke-width="1"><circle cx="7.3" cy="7.6" r="5.8"/><circle cx="5.3" cy="6" r="0.6" fill="#8b90a2"/><circle cx="9.3" cy="6" r="0.6" fill="#8b90a2"/><path d="M4.4 8.8 C5.6 11.2 9 11.2 10.2 8.8"/></svg>
<svg class="abs" style="left:255.5px;top:306.0px" width="20" height="20" fill="none" stroke="#8b90a2" stroke-width="1"><rect x="0.8" y="7.2" width="18" height="5.6" transform="rotate(-42 9.8 10)"/><path d="M6.2 12.2 L7.4 13.8 M8.6 10.3 L9.8 11.9 M11 8.4 L12.2 10 M13.4 6.5 L14.6 8.1" stroke-width="0.8"/></svg>
<svg class="abs" style="left:257.0px;top:333.5px" width="17" height="17" fill="none" stroke="#8b90a2" stroke-width="1"><circle cx="6.5" cy="7.6" r="5.6"/><line x1="10.6" y1="11.6" x2="13.4" y2="14.4"/><line x1="4" y1="7.6" x2="9" y2="7.6"/><line x1="6.5" y1="5.1" x2="6.5" y2="10.1"/></svg>
<svg class="abs" style="left:257.5px;top:368.5px" width="16" height="17" fill="none" stroke="#8b90a2" stroke-width="1"><path d="M2.2 15 L2.2 7 A5.4 5.4 0 0 1 13 7 L13 15 L9.8 15 L9.8 7.2 A2.2 2.2 0 0 0 5.4 7.2 L5.4 15 Z"/><line x1="2.2" y1="11.8" x2="5.4" y2="11.8"/><line x1="9.8" y1="11.8" x2="13" y2="11.8"/></svg>
<svg class="abs" style="left:256.0px;top:393.5px" width="19" height="18" fill="none" stroke="#8b90a2" stroke-width="1"><path d="M1.6 11.6 L2.4 8.4 L9.4 1.4 L11.8 3.8 L4.8 10.8 Z"/><line x1="7.6" y1="3.2" x2="10" y2="5.6"/><rect x="10.4" y="10.4" width="6" height="5" rx="0.6"/><path d="M11.8 10.4 L11.8 8.8 A1.6 1.6 0 0 1 15 8.8"/></svg>
<svg class="abs" style="left:258.0px;top:420.0px" width="15" height="18" fill="none" stroke="#8b90a2" stroke-width="1"><rect x="1.2" y="8.2" width="11.6" height="8.4" rx="1"/><path d="M3.6 8.2 L3.6 4.6 A3.4 3.4 0 0 1 10.2 3.6"/><rect x="6.2" y="11.4" width="1.6" height="2.2" fill="#8b90a2" stroke="none"/></svg>
<svg class="abs" style="left:256.5px;top:448.0px" width="17" height="13" fill="none" stroke="#8b90a2" stroke-width="1"><path d="M1 6.6 C4.4 0.8 12 0.8 15.4 6.6 C12 12.4 4.4 12.4 1 6.6 Z"/><circle cx="8.2" cy="6.6" r="2.2" fill="#8b90a2"/></svg>
<svg class="abs" style="left:259.0px;top:483.0px" width="12" height="15" fill="none" stroke="#8b90a2" stroke-width="1"><path d="M1.4 2.4 L10 2.4 L10 12.6 C10 13.4 9.4 14 8.6 14 L2.8 14 C2 14 1.4 13.4 1.4 12.6 Z M3.6 2.4 L3.6 1 L7.8 1 L7.8 2.4"/><line x1="4" y1="4.6" x2="4" y2="11.8"/><line x1="5.7" y1="4.6" x2="5.7" y2="11.8"/><line x1="7.4" y1="4.6" x2="7.4" y2="11.8"/></svg>
<div class="abs" style="left:247px;top:297.5px;width:38px;height:1px;background:#232739"></div>
<div class="abs" style="left:247px;top:358.9px;width:38px;height:1px;background:#232739"></div>
<div class="abs" style="left:247px;top:472.0px;width:38px;height:1px;background:#232739"></div>
<svg class="abs" style="left:0;top:0" width="1600" height="705" shape-rendering="auto">
<rect x="287" y="112.15" width="1255" height="1.1" fill="#262b40"/>
<rect x="287" y="137.15" width="1255" height="1.1" fill="#262b40"/>
<rect x="287" y="161.85" width="1255" height="1.1" fill="#262b40"/>
<rect x="287" y="184.15" width="1255" height="1.1" fill="#262b40"/>
<rect x="287" y="210.35" width="1255" height="1.1" fill="#262b40"/>
<rect x="287" y="232.35" width="1255" height="1.1" fill="#262b40"/>
<rect x="287" y="256.05" width="1255" height="1.1" fill="#262b40"/>
<rect x="287" y="278.35" width="1255" height="1.1" fill="#262b40"/>
<rect x="287" y="303.45" width="1255" height="1.1" fill="#262b40"/>
<rect x="287" y="327.90" width="1255" height="1.1" fill="#262b40"/>
<rect x="287" y="353.15" width="1255" height="1.1" fill="#262b40"/>
<rect x="287" y="377.60" width="1255" height="1.1" fill="#262b40"/>
<rect x="287" y="400.05" width="1255" height="1.1" fill="#262b40"/>
<rect x="287" y="424.45" width="1255" height="1.1" fill="#262b40"/>
<rect x="287" y="447.85" width="1255" height="1.1" fill="#262b40"/>
<rect x="287" y="471.85" width="1255" height="1.1" fill="#262b40"/>
<rect x="287" y="494.15" width="1255" height="1.1" fill="#262b40"/>
<rect x="287" y="517.05" width="1255" height="1.1" fill="#262b40"/>
<rect x="287" y="544.15" width="1255" height="1.1" fill="#262b40"/>
<rect x="287" y="570.25" width="1255" height="1.1" fill="#262b40"/>
<rect x="287" y="594.55" width="1255" height="1.1" fill="#262b40"/>
<rect x="287" y="616.65" width="1255" height="1.1" fill="#262b40"/>
<rect x="287" y="639.05" width="1255" height="1.1" fill="#262b40"/>
<rect x="324.95" y="109.5" width="1.1" height="548.9" fill="#262b40"/>
<rect x="400.65" y="109.5" width="1.1" height="548.9" fill="#262b40"/>
<rect x="504.55" y="109.5" width="1.1" height="548.9" fill="#262b40"/>
<rect x="617.95" y="109.5" width="1.1" height="548.9" fill="#262b40"/>
<rect x="720.95" y="109.5" width="1.1" height="548.9" fill="#262b40"/>
<rect x="834.35" y="109.5" width="1.1" height="548.9" fill="#262b40"/>
<rect x="947.45" y="109.5" width="1.1" height="548.9" fill="#262b40"/>
<rect x="1060.05" y="109.5" width="1.1" height="548.9" fill="#262b40"/>
<rect x="1173.85" y="109.5" width="1.1" height="548.9" fill="#262b40"/>
<rect x="1286.45" y="109.5" width="1.1" height="548.9" fill="#262b40"/>
<rect x="1352.95" y="109.5" width="1.1" height="548.9" fill="#262b40"/>
<rect x="287" y="654.90" width="1304" height="1" fill="#2a2f45"/>
<rect x="287" y="675" width="1304" height="1" fill="#232739"/>
<rect x="1538.5" y="109.5" width="1" height="566" fill="#2a2f45"/>
<rect x="1596" y="38" width="1" height="664" fill="#20253a"/>
<rect x="247" y="701.5" width="1353" height="1.2" fill="#2a2f45"/>
<rect x="247" y="702.7" width="1353" height="3" fill="#0f111b"/>
<rect x="1506.5" y="681" width="1" height="17" fill="#262b40"/>
<line x1="287" y1="285.4" x2="1539" y2="285.4" stroke="#14a848" stroke-width="1" stroke-dasharray="1.13 0.8" opacity="0.62"/>
<rect x="316.05" y="518.90" width="1.1" height="136.50" fill="#0f9f44"/>
<rect x="313.00" y="558.30" width="7.2" height="21.80" fill="#0fb14b"/>
<rect x="325.35" y="558.30" width="1.1" height="30.50" fill="#d63c16"/>
<rect x="322.30" y="558.30" width="7.2" height="4.80" fill="#ef4116"/>
<rect x="334.75" y="561.00" width="1.1" height="23.40" fill="#d63c16"/>
<rect x="331.70" y="562.90" width="7.2" height="19.70" fill="#ef4116"/>
<rect x="344.25" y="575.40" width="1.1" height="80.00" fill="#0f9f44"/>
<rect x="341.20" y="577.20" width="7.2" height="5.40" fill="#0fb14b"/>
<rect x="353.75" y="559.80" width="1.1" height="22.70" fill="#0f9f44"/>
<rect x="350.70" y="563.00" width="7.2" height="14.80" fill="#0fb14b"/>
<rect x="363.05" y="560.90" width="1.1" height="8.50" fill="#d63c16"/>
<rect x="360.00" y="563.40" width="7.2" height="1.20" fill="#ef4116"/>
<rect x="372.35" y="535.40" width="1.1" height="51.20" fill="#0f9f44"/>
<rect x="369.30" y="538.30" width="7.2" height="26.30" fill="#0fb14b"/>
<rect x="381.85" y="445.00" width="1.1" height="94.70" fill="#0f9f44"/>
<rect x="378.80" y="446.90" width="7.2" height="91.90" fill="#0fb14b"/>
<rect x="391.35" y="445.00" width="1.1" height="60.10" fill="#d63c16"/>
<rect x="388.30" y="446.90" width="7.2" height="23.80" fill="#ef4116"/>
<rect x="400.55" y="453.00" width="1.1" height="17.70" fill="#0f9f44"/>
<rect x="397.50" y="465.30" width="7.2" height="5.40" fill="#0fb14b"/>
<rect x="410.05" y="463.20" width="1.1" height="76.40" fill="#d63c16"/>
<rect x="407.00" y="465.30" width="7.2" height="20.30" fill="#ef4116"/>
<rect x="419.45" y="470.50" width="1.1" height="27.50" fill="#d63c16"/>
<rect x="416.40" y="484.90" width="7.2" height="10.70" fill="#ef4116"/>
<rect x="428.85" y="485.30" width="1.1" height="26.30" fill="#d63c16"/>
<rect x="425.80" y="495.10" width="7.2" height="1.40" fill="#ef4116"/>
<rect x="438.15" y="477.50" width="1.1" height="22.90" fill="#0f9f44"/>
<rect x="435.10" y="478.50" width="7.2" height="18.20" fill="#0fb14b"/>
<rect x="448.15" y="473.50" width="1.1" height="14.50" fill="#0f9f44"/>
<rect x="445.10" y="477.10" width="7.2" height="1.70" fill="#0fb14b"/>
<rect x="457.45" y="475.10" width="1.1" height="9.30" fill="#d63c16"/>
<rect x="454.40" y="477.10" width="7.2" height="5.60" fill="#ef4116"/>
<rect x="466.85" y="480.00" width="1.1" height="17.40" fill="#d63c16"/>
<rect x="463.80" y="482.10" width="7.2" height="11.40" fill="#ef4116"/>
<rect x="476.35" y="491.40" width="1.1" height="16.00" fill="#d63c16"/>
<rect x="473.30" y="492.70" width="7.2" height="12.10" fill="#ef4116"/>
<rect x="485.75" y="500.40" width="1.1" height="22.30" fill="#d63c16"/>
<rect x="482.70" y="504.10" width="7.2" height="7.40" fill="#ef4116"/>
<rect x="495.05" y="492.70" width="1.1" height="22.80" fill="#0f9f44"/>
<rect x="492.00" y="509.80" width="7.2" height="1.70" fill="#0fb14b"/>
<rect x="504.55" y="513.40" width="1.1" height="35.60" fill="#d63c16"/>
<rect x="501.50" y="513.40" width="7.2" height="22.40" fill="#ef4116"/>
<rect x="513.85" y="524.00" width="1.1" height="13.10" fill="#0f9f44"/>
<rect x="510.80" y="526.10" width="7.2" height="9.70" fill="#0fb14b"/>
<rect x="523.25" y="516.70" width="1.1" height="14.20" fill="#d63c16"/>
<rect x="520.20" y="526.50" width="7.2" height="2.90" fill="#ef4116"/>
<rect x="532.55" y="524.30" width="1.1" height="11.50" fill="#d63c16"/>
<rect x="529.50" y="528.60" width="7.2" height="1.90" fill="#ef4116"/>
<rect x="542.05" y="529.70" width="1.1" height="1.20" fill="#0f9f44"/>
<rect x="539.00" y="529.70" width="7.2" height="1.20" fill="#0fb14b"/>
<rect x="551.35" y="523.20" width="1.1" height="11.40" fill="#0f9f44"/>
<rect x="548.30" y="524.30" width="7.2" height="8.70" fill="#0fb14b"/>
<rect x="560.85" y="515.00" width="1.1" height="12.00" fill="#0f9f44"/>
<rect x="557.80" y="520.30" width="7.2" height="5.00" fill="#0fb14b"/>
<rect x="570.15" y="520.30" width="1.1" height="30.60" fill="#d63c16"/>
<rect x="567.10" y="520.30" width="7.2" height="11.40" fill="#ef4116"/>
<rect x="579.45" y="527.60" width="1.1" height="6.20" fill="#0f9f44"/>
<rect x="576.40" y="529.70" width="7.2" height="2.00" fill="#0fb14b"/>
<rect x="588.85" y="511.50" width="1.1" height="19.50" fill="#0f9f44"/>
<rect x="585.80" y="515.00" width="7.2" height="15.50" fill="#0fb14b"/>
<rect x="598.15" y="490.20" width="1.1" height="27.60" fill="#0f9f44"/>
<rect x="595.10" y="505.70" width="7.2" height="9.80" fill="#0fb14b"/>
<rect x="608.25" y="492.70" width="1.1" height="17.80" fill="#0f9f44"/>
<rect x="605.20" y="499.10" width="7.2" height="6.60" fill="#0fb14b"/>
<rect x="617.75" y="494.30" width="1.1" height="15.50" fill="#d63c16"/>
<rect x="614.70" y="498.20" width="7.2" height="9.50" fill="#ef4116"/>
<rect x="627.25" y="495.50" width="1.1" height="12.70" fill="#0f9f44"/>
<rect x="624.20" y="497.10" width="7.2" height="10.30" fill="#0fb14b"/>
<rect x="636.65" y="496.80" width="1.1" height="8.00" fill="#d63c16"/>
<rect x="633.60" y="497.10" width="7.2" height="3.30" fill="#ef4116"/>
<rect x="645.85" y="499.50" width="1.1" height="1.50" fill="#d63c16"/>
<rect x="642.80" y="499.50" width="7.2" height="1.50" fill="#ef4116"/>
<rect x="655.25" y="465.80" width="1.1" height="22.30" fill="#0f9f44"/>
<rect x="652.20" y="474.60" width="7.2" height="13.00" fill="#0fb14b"/>
<rect x="664.75" y="472.10" width="1.1" height="8.20" fill="#d63c16"/>
<rect x="661.70" y="474.30" width="7.2" height="4.50" fill="#ef4116"/>
<rect x="674.05" y="477.80" width="1.1" height="6.20" fill="#d63c16"/>
<rect x="671.00" y="478.30" width="7.2" height="4.90" fill="#ef4116"/>
<rect x="683.45" y="477.20" width="1.1" height="6.50" fill="#0f9f44"/>
<rect x="680.40" y="479.00" width="7.2" height="4.30" fill="#0fb14b"/>
<rect x="692.85" y="470.40" width="1.1" height="13.10" fill="#0f9f44"/>
<rect x="689.80" y="472.10" width="7.2" height="8.10" fill="#0fb14b"/>
<rect x="702.25" y="467.40" width="1.1" height="7.50" fill="#0f9f44"/>
<rect x="699.20" y="469.30" width="7.2" height="3.60" fill="#0fb14b"/>
<rect x="711.45" y="454.40" width="1.1" height="15.60" fill="#0f9f44"/>
<rect x="708.40" y="455.20" width="7.2" height="14.50" fill="#0fb14b"/>
<rect x="720.85" y="445.60" width="1.1" height="24.40" fill="#d63c16"/>
<rect x="717.80" y="455.20" width="7.2" height="1.20" fill="#ef4116"/>
<rect x="730.35" y="442.40" width="1.1" height="15.20" fill="#0f9f44"/>
<rect x="727.30" y="444.00" width="7.2" height="12.00" fill="#0fb14b"/>
<rect x="739.55" y="438.20" width="1.1" height="21.70" fill="#d63c16"/>
<rect x="736.50" y="444.00" width="7.2" height="5.80" fill="#ef4116"/>
<rect x="749.05" y="434.20" width="1.1" height="16.50" fill="#0f9f44"/>
<rect x="746.00" y="434.20" width="7.2" height="15.60" fill="#0fb14b"/>
<rect x="758.45" y="400.30" width="1.1" height="34.30" fill="#0f9f44"/>
<rect x="755.40" y="412.00" width="7.2" height="22.60" fill="#0fb14b"/>
<rect x="768.45" y="395.10" width="1.1" height="20.80" fill="#0f9f44"/>
<rect x="765.40" y="406.50" width="7.2" height="5.80" fill="#0fb14b"/>
<rect x="777.85" y="396.10" width="1.1" height="26.00" fill="#0f9f44"/>
<rect x="774.80" y="397.40" width="7.2" height="9.40" fill="#0fb14b"/>
<rect x="787.25" y="370.60" width="1.1" height="32.20" fill="#0f9f44"/>
<rect x="784.20" y="370.60" width="7.2" height="27.50" fill="#0fb14b"/>
<rect x="796.65" y="368.40" width="1.1" height="27.20" fill="#d63c16"/>
<rect x="793.60" y="370.90" width="7.2" height="4.80" fill="#ef4116"/>
<rect x="806.05" y="353.00" width="1.1" height="25.00" fill="#0f9f44"/>
<rect x="803.00" y="353.90" width="7.2" height="21.80" fill="#0fb14b"/>
<rect x="815.35" y="324.10" width="1.1" height="39.70" fill="#0f9f44"/>
<rect x="812.30" y="331.30" width="7.2" height="23.10" fill="#0fb14b"/>
<rect x="824.95" y="294.00" width="1.1" height="40.70" fill="#0f9f44"/>
<rect x="821.90" y="313.90" width="7.2" height="17.90" fill="#0fb14b"/>
<rect x="834.25" y="302.00" width="1.1" height="33.50" fill="#d63c16"/>
<rect x="831.20" y="313.90" width="7.2" height="16.20" fill="#ef4116"/>
<rect x="843.45" y="321.90" width="1.1" height="36.60" fill="#0f9f44"/>
<rect x="840.40" y="328.70" width="7.2" height="1.40" fill="#0fb14b"/>
<rect x="852.95" y="322.40" width="1.1" height="31.20" fill="#d63c16"/>
<rect x="849.90" y="329.20" width="7.2" height="21.30" fill="#ef4116"/>
<rect x="862.55" y="332.10" width="1.1" height="22.70" fill="#0f9f44"/>
<rect x="859.50" y="335.20" width="7.2" height="15.30" fill="#0fb14b"/>
<rect x="871.65" y="331.30" width="1.1" height="18.30" fill="#d63c16"/>
<rect x="868.60" y="335.20" width="7.2" height="11.60" fill="#ef4116"/>
<rect x="881.05" y="344.20" width="1.1" height="16.50" fill="#d63c16"/>
<rect x="878.00" y="346.20" width="7.2" height="8.90" fill="#ef4116"/>
<rect x="890.45" y="339.40" width="1.1" height="18.20" fill="#0f9f44"/>
<rect x="887.40" y="344.20" width="7.2" height="10.90" fill="#0fb14b"/>
<rect x="899.95" y="344.20" width="1.1" height="15.30" fill="#d63c16"/>
<rect x="896.90" y="344.20" width="7.2" height="6.00" fill="#ef4116"/>
<rect x="909.25" y="346.60" width="1.1" height="11.00" fill="#d63c16"/>
<rect x="906.20" y="349.60" width="7.2" height="2.90" fill="#ef4116"/>
<rect x="918.65" y="344.20" width="1.1" height="12.30" fill="#d63c16"/>
<rect x="915.60" y="353.00" width="7.2" height="2.30" fill="#ef4116"/>
<rect x="928.65" y="353.00" width="1.1" height="31.90" fill="#d63c16"/>
<rect x="925.60" y="354.40" width="7.2" height="25.00" fill="#ef4116"/>
<rect x="937.95" y="374.40" width="1.1" height="17.50" fill="#d63c16"/>
<rect x="934.90" y="379.20" width="7.2" height="3.30" fill="#ef4116"/>
<rect x="947.35" y="377.20" width="1.1" height="11.20" fill="#d63c16"/>
<rect x="944.30" y="381.70" width="7.2" height="5.70" fill="#ef4116"/>
<rect x="956.85" y="376.10" width="1.1" height="12.80" fill="#0f9f44"/>
<rect x="953.80" y="380.90" width="7.2" height="6.40" fill="#0fb14b"/>
<rect x="966.25" y="377.10" width="1.1" height="6.70" fill="#0f9f44"/>
<rect x="963.20" y="377.50" width="7.2" height="4.30" fill="#0fb14b"/>
<rect x="975.55" y="360.60" width="1.1" height="18.00" fill="#0f9f44"/>
<rect x="972.50" y="361.30" width="7.2" height="16.90" fill="#0fb14b"/>
<rect x="984.95" y="335.30" width="1.1" height="27.40" fill="#0f9f44"/>
<rect x="981.90" y="339.40" width="7.2" height="23.00" fill="#0fb14b"/>
<rect x="994.45" y="313.90" width="1.1" height="33.00" fill="#0f9f44"/>
<rect x="991.40" y="326.70" width="7.2" height="13.10" fill="#0fb14b"/>
<rect x="1003.75" y="316.20" width="1.1" height="20.60" fill="#d63c16"/>
<rect x="1000.70" y="326.70" width="7.2" height="4.30" fill="#ef4116"/>
<rect x="1013.25" y="320.20" width="1.1" height="14.60" fill="#d63c16"/>
<rect x="1010.20" y="329.90" width="7.2" height="3.80" fill="#ef4116"/>
<rect x="1022.45" y="326.00" width="1.1" height="18.70" fill="#d63c16"/>
<rect x="1019.40" y="332.30" width="7.2" height="8.50" fill="#ef4116"/>
<rect x="1032.15" y="328.00" width="1.1" height="19.60" fill="#0f9f44"/>
<rect x="1029.10" y="335.30" width="7.2" height="5.50" fill="#0fb14b"/>
<rect x="1041.35" y="332.30" width="1.1" height="20.50" fill="#d63c16"/>
<rect x="1038.30" y="335.30" width="7.2" height="10.50" fill="#ef4116"/>
<rect x="1050.75" y="343.40" width="1.1" height="10.90" fill="#d63c16"/>
<rect x="1047.70" y="345.60" width="7.2" height="3.30" fill="#ef4116"/>
<rect x="1060.15" y="334.00" width="1.1" height="16.80" fill="#0f9f44"/>
<rect x="1057.10" y="334.00" width="7.2" height="14.90" fill="#0fb14b"/>
<rect x="1069.65" y="328.00" width="1.1" height="12.20" fill="#d63c16"/>
<rect x="1066.60" y="334.00" width="7.2" height="5.80" fill="#ef4116"/>
<rect x="1079.05" y="335.30" width="1.1" height="44.90" fill="#d63c16"/>
<rect x="1076.00" y="338.80" width="7.2" height="16.10" fill="#ef4116"/>
<rect x="1088.45" y="334.40" width="1.1" height="22.20" fill="#0f9f44"/>
<rect x="1085.40" y="338.80" width="7.2" height="16.10" fill="#0fb14b"/>
<rect x="1098.15" y="331.00" width="1.1" height="11.90" fill="#0f9f44"/>
<rect x="1095.10" y="334.10" width="7.2" height="4.70" fill="#0fb14b"/>
<rect x="1107.65" y="328.60" width="1.1" height="8.90" fill="#d63c16"/>
<rect x="1104.60" y="334.40" width="7.2" height="2.00" fill="#ef4116"/>
<rect x="1117.05" y="324.20" width="1.1" height="13.30" fill="#0f9f44"/>
<rect x="1114.00" y="324.20" width="7.2" height="12.00" fill="#0fb14b"/>
<rect x="1126.45" y="319.00" width="1.1" height="9.70" fill="#0f9f44"/>
<rect x="1123.40" y="322.60" width="7.2" height="2.10" fill="#0fb14b"/>
<rect x="1135.85" y="320.70" width="1.1" height="11.00" fill="#d63c16"/>
<rect x="1132.80" y="322.40" width="7.2" height="4.60" fill="#ef4116"/>
<rect x="1145.15" y="312.70" width="1.1" height="17.00" fill="#0f9f44"/>
<rect x="1142.10" y="313.90" width="7.2" height="13.10" fill="#0fb14b"/>
<rect x="1154.55" y="294.30" width="1.1" height="21.80" fill="#0f9f44"/>
<rect x="1151.50" y="294.30" width="7.2" height="19.60" fill="#0fb14b"/>
<rect x="1163.85" y="274.20" width="1.1" height="27.40" fill="#0f9f44"/>
<rect x="1160.80" y="274.20" width="7.2" height="20.60" fill="#0fb14b"/>
<rect x="1173.55" y="254.00" width="1.1" height="20.40" fill="#0f9f44"/>
<rect x="1170.50" y="267.10" width="7.2" height="7.30" fill="#0fb14b"/>
<rect x="1183.15" y="237.00" width="1.1" height="30.90" fill="#0f9f44"/>
<rect x="1180.10" y="250.40" width="7.2" height="17.50" fill="#0fb14b"/>
<rect x="1192.45" y="234.20" width="1.1" height="17.10" fill="#0f9f44"/>
<rect x="1189.40" y="236.10" width="7.2" height="15.20" fill="#0fb14b"/>
<rect x="1201.65" y="231.40" width="1.1" height="17.50" fill="#d63c16"/>
<rect x="1198.60" y="236.50" width="7.2" height="1.70" fill="#ef4116"/>
<rect x="1211.15" y="235.60" width="1.1" height="37.10" fill="#d63c16"/>
<rect x="1208.10" y="237.30" width="7.2" height="23.50" fill="#ef4116"/>
<rect x="1220.55" y="255.20" width="1.1" height="19.50" fill="#d63c16"/>
<rect x="1217.50" y="260.80" width="7.2" height="3.70" fill="#ef4116"/>
<rect x="1229.85" y="254.00" width="1.1" height="19.90" fill="#0f9f44"/>
<rect x="1226.80" y="255.20" width="7.2" height="9.30" fill="#0fb14b"/>
<rect x="1239.45" y="244.10" width="1.1" height="16.70" fill="#0f9f44"/>
<rect x="1236.40" y="248.00" width="7.2" height="7.50" fill="#0fb14b"/>
<rect x="1248.65" y="242.10" width="1.1" height="15.60" fill="#d63c16"/>
<rect x="1245.60" y="248.00" width="7.2" height="4.30" fill="#ef4116"/>
<rect x="1258.35" y="229.10" width="1.1" height="23.30" fill="#0f9f44"/>
<rect x="1255.30" y="233.90" width="7.2" height="18.50" fill="#0fb14b"/>
<rect x="1267.85" y="228.00" width="1.1" height="13.90" fill="#d63c16"/>
<rect x="1264.80" y="234.10" width="7.2" height="3.90" fill="#ef4116"/>
<rect x="1277.25" y="236.10" width="1.1" height="18.70" fill="#d63c16"/>
<rect x="1274.20" y="238.10" width="7.2" height="11.60" fill="#ef4116"/>
<rect x="1286.45" y="247.10" width="1.1" height="20.60" fill="#d63c16"/>
<rect x="1283.40" y="249.10" width="7.2" height="10.60" fill="#ef4116"/>
<rect x="1295.95" y="249.70" width="1.1" height="16.10" fill="#0f9f44"/>
<rect x="1292.90" y="253.30" width="7.2" height="6.40" fill="#0fb14b"/>
<rect x="1305.25" y="246.50" width="1.1" height="15.30" fill="#0f9f44"/>
<rect x="1302.20" y="250.30" width="7.2" height="2.40" fill="#0fb14b"/>
<rect x="1314.65" y="247.90" width="1.1" height="12.90" fill="#d63c16"/>
<rect x="1311.60" y="250.30" width="7.2" height="10.50" fill="#ef4116"/>
<rect x="1324.05" y="257.00" width="1.1" height="21.90" fill="#d63c16"/>
<rect x="1321.00" y="260.30" width="7.2" height="9.60" fill="#ef4116"/>
<rect x="1333.35" y="269.30" width="1.1" height="32.50" fill="#d63c16"/>
<rect x="1330.30" y="269.30" width="7.2" height="25.30" fill="#ef4116"/>
<rect x="1343.45" y="282.50" width="1.1" height="15.50" fill="#0f9f44"/>
<rect x="1340.40" y="285.70" width="7.2" height="9.00" fill="#0fb14b"/>
<rect x="1352.95" y="281.90" width="1.1" height="5.80" fill="#0f9f44"/>
<rect x="1349.90" y="284.90" width="7.2" height="1.60" fill="#0fb14b"/>
</svg>
<div class="abs" style="left:388px;top:111.5px;width:109px;height:19px;background:#131522;opacity:0.7"></div>
<span class="t" style="left:388.10px;top:117.75px;font-size:10.35px;color:#1fb954;font-weight:normal;transform-origin:0 0;transform:scaleX(0.904);-webkit-text-stroke:0.3px;">48.5</span>
<span class="t" style="left:411.30px;top:117.75px;font-size:10.35px;color:#a0a6b8;font-weight:normal;transform-origin:0 0;transform:scaleX(0.643);-webkit-text-stroke:0.3px;">L</span>
<span class="t" style="left:415.60px;top:117.75px;font-size:10.35px;color:#1fb954;font-weight:normal;transform-origin:0 0;transform:scaleX(0.887);-webkit-text-stroke:0.3px;">22434.5</span>
<span class="t" style="left:453.60px;top:117.75px;font-size:10.35px;color:#a0a6b8;font-weight:normal;transform-origin:0 0;transform:scaleX(0.656);-webkit-text-stroke:0.3px;">C</span>
<span class="t" style="left:459.40px;top:117.75px;font-size:10.35px;color:#1fb954;font-weight:normal;transform-origin:0 0;transform:scaleX(0.885);-webkit-text-stroke:0.3px;">23433.5</span>
<span class="t" style="left:1544.90px;top:107.75px;font-size:9.50px;color:#b2b7c6;font-weight:normal;transform-origin:0 0;transform:scaleX(0.886);-webkit-text-stroke:0.25px #b2b7c6;">600000.0</span>
<span class="t" style="left:1544.90px;top:132.75px;font-size:9.50px;color:#b2b7c6;font-weight:normal;transform-origin:0 0;transform:scaleX(0.886);-webkit-text-stroke:0.25px #b2b7c6;">375000.0</span>
<span class="t" style="left:1544.90px;top:157.75px;font-size:9.50px;color:#b2b7c6;font-weight:normal;transform-origin:0 0;transform:scaleX(0.886);-webkit-text-stroke:0.25px #b2b7c6;">235000.0</span>
<span class="t" style="left:1545.80px;top:179.75px;font-size:9.50px;color:#b2b7c6;font-weight:normal;transform-origin:0 0;transform:scaleX(0.863);-webkit-text-stroke:0.25px #b2b7c6;">155000.0</span>
<span class="t" style="left:1544.90px;top:205.75px;font-size:9.50px;color:#b2b7c6;font-weight:normal;transform-origin:0 0;transform:scaleX(0.897);-webkit-text-stroke:0.25px #b2b7c6;">95000.0</span>
<span class="t" style="left:1544.90px;top:227.75px;font-size:9.50px;color:#b2b7c6;font-weight:normal;transform-origin:0 0;transform:scaleX(0.897);-webkit-text-stroke:0.25px #b2b7c6;">63000.0</span>
<span class="t" style="left:1544.90px;top:251.75px;font-size:9.50px;color:#b2b7c6;font-weight:normal;transform-origin:0 0;transform:scaleX(0.897);-webkit-text-stroke:0.25px #b2b7c6;">40500.0</span>
<span class="t" style="left:1544.90px;top:273.75px;font-size:9.50px;color:#b2b7c6;font-weight:normal;transform-origin:0 0;transform:scaleX(0.897);-webkit-text-stroke:0.25px #b2b7c6;">26500.0</span>
<span class="t" style="left:1545.80px;top:298.75px;font-size:9.50px;color:#b2b7c6;font-weight:normal;transform-origin:0 0;transform:scaleX(0.871);-webkit-text-stroke:0.25px #b2b7c6;">16500.0</span>
<span class="t" style="left:1545.80px;top:323.75px;font-size:9.50px;color:#b2b7c6;font-weight:normal;transform-origin:0 0;transform:scaleX(0.871);-webkit-text-stroke:0.25px #b2b7c6;">10500.0</span>
<span class="t" style="left:1544.90px;top:348.75px;font-size:9.50px;color:#b2b7c6;font-weight:normal;transform-origin:0 0;transform:scaleX(0.905);-webkit-text-stroke:0.25px #b2b7c6;">6500.0</span>
<span class="t" style="left:1544.90px;top:373.75px;font-size:9.50px;color:#b2b7c6;font-weight:normal;transform-origin:0 0;transform:scaleX(0.905);-webkit-text-stroke:0.25px #b2b7c6;">4100.0</span>
<span class="t" style="left:1544.90px;top:395.75px;font-size:9.50px;color:#b2b7c6;font-weight:normal;transform-origin:0 0;transform:scaleX(0.905);-webkit-text-stroke:0.25px #b2b7c6;">2700.0</span>
<span class="t" style="left:1545.80px;top:419.75px;font-size:9.50px;color:#b2b7c6;font-weight:normal;transform-origin:0 0;transform:scaleX(0.874);-webkit-text-stroke:0.25px #b2b7c6;">1700.0</span>
<span class="t" style="left:1545.80px;top:443.75px;font-size:9.50px;color:#b2b7c6;font-weight:normal;transform-origin:0 0;transform:scaleX(0.896);-webkit-text-stroke:0.25px #b2b7c6;">1100.0</span>
<span class="t" style="left:1544.90px;top:467.75px;font-size:9.50px;color:#b2b7c6;font-weight:normal;transform-origin:0 0;transform:scaleX(0.913);-webkit-text-stroke:0.25px #b2b7c6;">700.0</span>
<span class="t" style="left:1544.90px;top:489.75px;font-size:9.50px;color:#b2b7c6;font-weight:normal;transform-origin:0 0;transform:scaleX(0.913);-webkit-text-stroke:0.25px #b2b7c6;">460.0</span>
<span class="t" style="left:1544.90px;top:512.75px;font-size:9.50px;color:#b2b7c6;font-weight:normal;transform-origin:0 0;transform:scaleX(0.913);-webkit-text-stroke:0.25px #b2b7c6;">300.0</span>
<span class="t" style="left:1545.80px;top:539.75px;font-size:9.50px;color:#b2b7c6;font-weight:normal;transform-origin:0 0;transform:scaleX(0.875);-webkit-text-stroke:0.25px #b2b7c6;">180.0</span>
<span class="t" style="left:1545.80px;top:565.75px;font-size:9.50px;color:#b2b7c6;font-weight:normal;transform-origin:0 0;transform:scaleX(0.902);-webkit-text-stroke:0.25px #b2b7c6;">110.0</span>
<span class="t" style="left:1544.90px;top:590.75px;font-size:9.50px;color:#b2b7c6;font-weight:normal;transform-origin:0 0;transform:scaleX(0.936);-webkit-text-stroke:0.25px #b2b7c6;">70.0</span>
<span class="t" style="left:1544.90px;top:612.75px;font-size:9.50px;color:#b2b7c6;font-weight:normal;transform-origin:0 0;transform:scaleX(0.936);-webkit-text-stroke:0.25px #b2b7c6;">46.0</span>
<span class="t" style="left:1544.90px;top:634.75px;font-size:9.50px;color:#b2b7c6;font-weight:normal;transform-origin:0 0;transform:scaleX(0.936);-webkit-text-stroke:0.25px #b2b7c6;">30.0</span>
<div class="abs" style="left:1538.6px;top:278.9px;width:43.7px;height:13px;background:#12b34c"></div>
<div class="abs" style="left:1538.6px;top:284.8px;width:3.4px;height:1px;background:#d8f5e0"></div>
<span class="t" style="left:1544.90px;top:280.75px;font-size:9.50px;color:#ffffff;font-weight:normal;transform-origin:0 0;transform:scaleX(0.897);-webkit-text-stroke:0.25px #ffffff;">23433.5</span>
<span class="t" style="left:318.25px;top:661.75px;font-size:9.22px;color:#b2b7c6;font-weight:normal;transform-origin:0 0;transform:scaleX(0.890);">May</span>
<span class="t" style="left:391.75px;top:661.75px;font-size:9.22px;color:#b2b7c6;font-weight:bold;transform-origin:0 0;transform:scaleX(0.951);">2014</span>
<span class="t" style="left:495.30px;top:661.75px;font-size:9.22px;color:#b2b7c6;font-weight:bold;transform-origin:0 0;transform:scaleX(0.960);">2015</span>
<span class="t" style="left:608.50px;top:661.75px;font-size:9.22px;color:#b2b7c6;font-weight:bold;transform-origin:0 0;transform:scaleX(0.960);">2016</span>
<span class="t" style="left:711.70px;top:661.75px;font-size:9.22px;color:#b2b7c6;font-weight:bold;transform-origin:0 0;transform:scaleX(0.960);">2017</span>
<span class="t" style="left:825.10px;top:661.75px;font-size:9.22px;color:#b2b7c6;font-weight:bold;transform-origin:0 0;transform:scaleX(0.960);">2018</span>
<span class="t" style="left:938.20px;top:661.75px;font-size:9.22px;color:#b2b7c6;font-weight:bold;transform-origin:0 0;transform:scaleX(0.960);">2019</span>
<span class="t" style="left:1050.80px;top:661.75px;font-size:9.22px;color:#b2b7c6;font-weight:bold;transform-origin:0 0;transform:scaleX(0.960);">2020</span>
<span class="t" style="left:1164.60px;top:661.75px;font-size:9.22px;color:#b2b7c6;font-weight:bold;transform-origin:0 0;transform:scaleX(0.960);">2021</span>
<span class="t" style="left:1277.40px;top:661.75px;font-size:9.22px;color:#b2b7c6;font-weight:bold;transform-origin:0 0;transform:scaleX(0.955);">2022</span>
<span class="t" style="left:1346.25px;top:661.75px;font-size:9.22px;color:#b2b7c6;font-weight:normal;transform-origin:0 0;transform:scaleX(0.838);">Aug</span>
<span class="t" style="left:298.00px;top:684.75px;font-size:11.06px;color:#a0a6b8;font-weight:normal;transform-origin:0 0;transform:scaleX(0.856);-webkit-text-stroke:0.2px;">5y</span>
<span class="t" style="left:318.75px;top:684.75px;font-size:11.06px;color:#a0a6b8;font-weight:normal;transform-origin:0 0;transform:scaleX(0.856);-webkit-text-stroke:0.2px;">1y</span>
<span class="t" style="left:338.75px;top:684.75px;font-size:11.06px;color:#a0a6b8;font-weight:normal;transform-origin:0 0;transform:scaleX(0.895);-webkit-text-stroke:0.2px;">6m</span>
<span class="t" style="left:363.00px;top:684.75px;font-size:11.06px;color:#a0a6b8;font-weight:normal;transform-origin:0 0;transform:scaleX(0.879);-webkit-text-stroke:0.2px;">3m</span>
<span class="t" style="left:387.00px;top:684.75px;font-size:11.06px;color:#a0a6b8;font-weight:normal;transform-origin:0 0;transform:scaleX(0.814);-webkit-text-stroke:0.2px;">1m</span>
<span class="t" style="left:410.50px;top:684.75px;font-size:11.06px;color:#a0a6b8;font-weight:normal;transform-origin:0 0;transform:scaleX(0.813);-webkit-text-stroke:0.2px;">5d</span>
<span class="t" style="left:431.75px;top:684.75px;font-size:11.06px;color:#a0a6b8;font-weight:normal;transform-origin:0 0;transform:scaleX(0.833);-webkit-text-stroke:0.2px;">1d</span>
<span class="t" style="left:1426.80px;top:684.75px;font-size:11.06px;color:#a0a6b8;font-weight:normal;transform-origin:0 0;transform:scaleX(0.895);">20:52:01 (UTC)</span>
<span class="t" style="left:1519.30px;top:684.75px;font-size:11.06px;color:#a0a6b8;font-weight:normal;transform-origin:0 0;transform:scaleX(0.885);">%</span>
<span class="t" style="left:1539.20px;top:684.75px;font-size:11.06px;color:#2f7be0;font-weight:normal;transform-origin:0 0;transform:scaleX(0.901);">log</span>
<span class="t" style="left:1562.50px;top:684.75px;font-size:11.06px;color:#a0a6b8;font-weight:normal;transform-origin:0 0;transform:scaleX(0.929);">auto</span>
<svg class="abs" style="left:1559px;top:660px" width="12" height="12" fill="none" stroke="#a0a6b8" stroke-width="1"><circle cx="6" cy="6" r="3.2"/><path d="M6 0.6 L6 2.4 M6 9.6 L6 11.4 M0.6 6 L2.4 6 M9.6 6 L11.4 6 M2.2 2.2 L3.5 3.5 M8.5 8.5 L9.8 9.8 M2.2 9.8 L3.5 8.5 M8.5 3.5 L9.8 2.2"/></svg>
<div class="abs" style="left:1589.5px;top:360px;width:11px;height:22px;border-radius:5px 0 0 5px;background:#2a2f42"></div>
<svg class="abs" style="left:1592px;top:367px" width="6" height="8" fill="none" stroke="#8a90a6" stroke-width="1"><path d="M1.4 1 L4.4 4 L1.4 7"/></svg>
<div class="abs" style="left:279.5px;top:641px;width:7px;height:20px;border-radius:3.5px;border:1px solid #2a2f45;background:#131522"></div>
<svg class="abs" style="left:280.5px;top:647.5px" width="5" height="7" fill="none" stroke="#a0a6b8" stroke-width="0.9"><path d="M3.4 1 L1.2 3.4 L3.4 5.8"/></svg>
<div class="abs" style="left:292px;top:626.8px;width:22.6px;height:22.6px;border-radius:11.3px;background:#2a2e3c"></div>
<svg class="abs" style="left:294.2px;top:631.4px" width="19.6" height="13.8" viewBox="0 0 17 12"><path d="M1 9.6 C0.2 7.4 1.6 5.8 3.2 5.8 L6.4 2 L9.4 5 L11 3.6 C13.6 3.4 15.6 5.2 15.4 7.6 C15.2 9 14.4 9.6 13.6 9.6 Z" fill="#3a9cf4"/><path d="M2.6 8 L6.4 4.4 L9.4 7.4 L12.4 5" fill="none" stroke="#2a2e3c" stroke-width="1.1"/></svg>
<div class="abs" style="left:287px;top:110.2px;width:100.5px;height:313.8px;background:#1e222d;box-shadow:0 1px 3px rgba(0,0,0,.7)"></div>
<div class="abs" style="left:287px;top:351.4px;width:100.6px;height:22.8px;background:#2a2e39"></div>
<div class="abs" style="left:287px;top:397.2px;width:100.5px;height:23.8px;background:#1976d2"></div>
<div class="abs" style="left:287px;top:256.2px;width:100.6px;height:1px;background:#363a48"></div>
<div class="abs" style="left:287px;top:329.0px;width:100.6px;height:1px;background:#363a48"></div>
<span class="t" style="left:294.90px;top:121.75px;font-size:8.94px;color:#8a8f9f;font-weight:normal;transform-origin:0 0;transform:scaleX(0.823);-webkit-text-stroke:0.2px #8a8f9f;">MINUTES</span>
<svg class="abs" style="left:371.5px;top:122.8px" width="8" height="6" fill="none" stroke="#868b9c" stroke-width="1"><path d="M1 4.4 L3.8 1.6 L6.6 4.4"/></svg>
<span class="t" style="left:294.90px;top:262.75px;font-size:8.94px;color:#8a8f9f;font-weight:normal;transform-origin:0 0;transform:scaleX(0.787);-webkit-text-stroke:0.2px #8a8f9f;">HOURS</span>
<svg class="abs" style="left:371.5px;top:264.5px" width="8" height="6" fill="none" stroke="#868b9c" stroke-width="1"><path d="M1 4.4 L3.8 1.6 L6.6 4.4"/></svg>
<span class="t" style="left:294.90px;top:335.75px;font-size:8.94px;color:#8a8f9f;font-weight:normal;transform-origin:0 0;transform:scaleX(0.785);-webkit-text-stroke:0.2px #8a8f9f;">DAYS</span>
<svg class="abs" style="left:371.5px;top:337.5px" width="8" height="6" fill="none" stroke="#868b9c" stroke-width="1"><path d="M1 4.4 L3.8 1.6 L6.6 4.4"/></svg>
<span class="t" style="left:295.60px;top:142.75px;font-size:9.93px;color:#ccd0d9;font-weight:normal;transform-origin:0 0;transform:scaleX(1.037);-webkit-text-stroke:0.35px #ccd0d9;">1 minute</span>
<span class="t" style="left:295.60px;top:165.75px;font-size:9.93px;color:#ccd0d9;font-weight:normal;transform-origin:0 0;transform:scaleX(1.013);-webkit-text-stroke:0.35px #ccd0d9;">3 minutes</span>
<span class="t" style="left:295.60px;top:188.75px;font-size:9.93px;color:#ccd0d9;font-weight:normal;transform-origin:0 0;transform:scaleX(1.013);-webkit-text-stroke:0.35px #ccd0d9;">5 minutes</span>
<span class="t" style="left:295.60px;top:211.75px;font-size:9.93px;color:#ccd0d9;font-weight:normal;transform-origin:0 0;transform:scaleX(1.013);-webkit-text-stroke:0.35px #ccd0d9;">15 minutes</span>
<span class="t" style="left:295.60px;top:234.75px;font-size:9.93px;color:#ccd0d9;font-weight:normal;transform-origin:0 0;transform:scaleX(1.013);-webkit-text-stroke:0.35px #ccd0d9;">30 minutes</span>
<span class="t" style="left:295.60px;top:284.75px;font-size:9.93px;color:#ccd0d9;font-weight:normal;transform-origin:0 0;transform:scaleX(0.995);-webkit-text-stroke:0.35px #ccd0d9;">1 hour</span>
<span class="t" style="left:295.60px;top:307.75px;font-size:9.93px;color:#ccd0d9;font-weight:normal;transform-origin:0 0;transform:scaleX(0.984);-webkit-text-stroke:0.35px #ccd0d9;">4 hours</span>
<span class="t" style="left:295.60px;top:357.75px;font-size:9.93px;color:#ccd0d9;font-weight:normal;transform-origin:0 0;transform:scaleX(0.984);-webkit-text-stroke:0.35px #ccd0d9;">1 day</span>
<span class="t" style="left:295.60px;top:380.75px;font-size:9.93px;color:#ccd0d9;font-weight:normal;transform-origin:0 0;transform:scaleX(1.007);-webkit-text-stroke:0.35px #ccd0d9;">1 week</span>
<span class="t" style="left:295.60px;top:403.75px;font-size:9.93px;color:#ffffff;font-weight:normal;transform-origin:0 0;transform:scaleX(1.020);-webkit-text-stroke:0.35px #ffffff;">1 month</span>
</div>
<!--END-->
</body></html>
